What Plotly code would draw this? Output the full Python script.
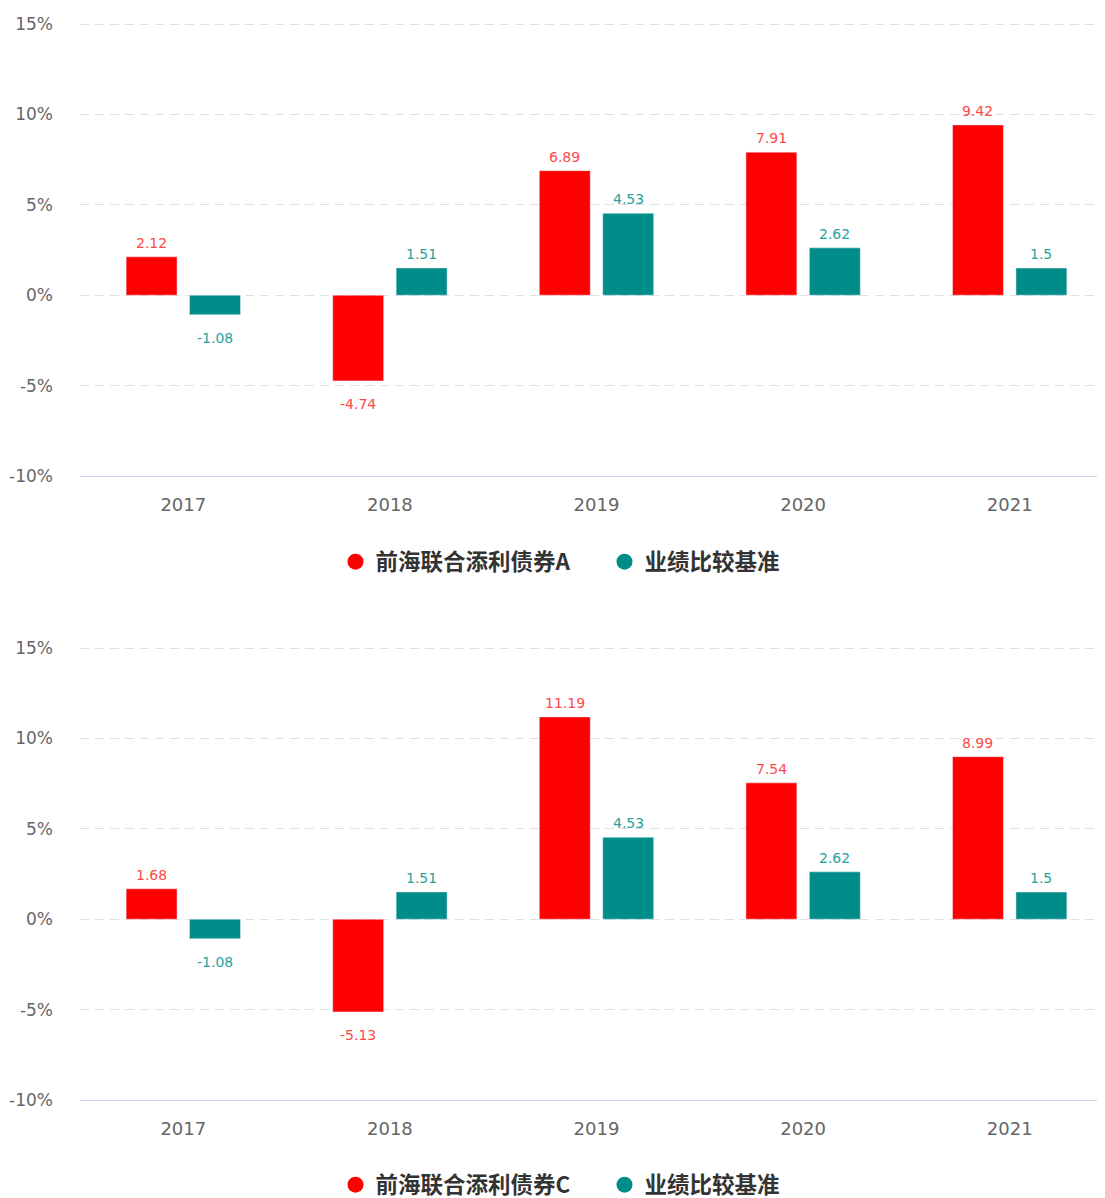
import plotly.graph_objects as go
from plotly.subplots import make_subplots

years = ["2017", "2018", "2019", "2020", "2021"]
fund_a = [2.12, -4.74, 6.89, 7.91, 9.42]
fund_c = [1.68, -5.13, 11.19, 7.54, 8.99]
bench = [-1.08, 1.51, 4.53, 2.62, 1.5]
name_a = "前海联合添利债券A"
name_c = "前海联合添利债券C"
name_b = "业绩比较基准"
y_ticks = [-10, -5, 0, 5, 10, 15]
y_ticktext = [f"{v}%" for v in y_ticks]

RED = "#ff0000"
TEAL = "#008c89"
LBL_RED = "#ff4848"
LBL_TEAL = "#2a9f9b"

BODY = 8  # page body margin of the html page
H = 1198
W = 1105
ML = 80 - BODY
PLOT_W = W - ML
BARGAP = 0.386
BARGROUPGAP = 0.197
cat_px = PLOT_W / 5
bar_off = cat_px * (1 - BARGAP) / 4  # centre offset of each bar in a group

Y_MIN, Y_MAX = -10, 15.1   # small headroom so the 15% grid line is drawn
PX_PER_UNIT = 452 / 25

fig = make_subplots(rows=2, cols=1)

def add_panel(row, fund, fname, legend):
    xref = "x" if row == 1 else f"x{row}"
    yref = "y" if row == 1 else f"y{row}"
    for vals, color, lcolor, nm, sign in [(fund, RED, LBL_RED, fname, -1),
                                         (bench, TEAL, LBL_TEAL, name_b, 1)]:
        fig.add_trace(go.Bar(x=years, y=vals, name=nm, marker_color=color,
                             showlegend=False), row=row, col=1)
        for i, v in enumerate(vals):
            pos = v >= 0
            fig.add_annotation(
                x=i, y=v, xref=xref, yref=yref, text=str(v), showarrow=False,
                xanchor="center", yanchor="bottom" if pos else "top",
                xshift=sign * bar_off, yshift=4 if pos else -13,
                font=dict(family="DejaVu Sans, sans-serif", size=14, color=lcolor))
    fig.add_trace(go.Scatter(x=[None], y=[None], mode="markers", name=fname,
                             marker=dict(color=RED, size=20, symbol="circle"),
                             legend=legend), row=row, col=1)
    fig.add_trace(go.Scatter(x=[None], y=[None], mode="markers", name=name_b,
                             marker=dict(color=TEAL, size=20, symbol="circle"),
                             legend=legend), row=row, col=1)

add_panel(1, fund_a, name_a, "legend")
add_panel(2, fund_c, name_c, "legend2")

extra = (Y_MAX - 15) * PX_PER_UNIT
top_dom = [1 - (476 - BODY) / H, 1 - (24 - extra - BODY) / H]
bot_dom = [1 - (1100 - BODY) / H, 1 - (648 - extra - BODY) / H]

yfont = dict(family="DejaVu Sans, sans-serif", size=17, color="#666666")
xfont = dict(family="DejaVu Sans, sans-serif", size=18, color="#666666")
for r, dom in [(1, top_dom), (2, bot_dom)]:
    fig.update_yaxes(row=r, col=1, domain=dom, range=[Y_MIN, Y_MAX], tickvals=y_ticks,
                     ticktext=y_ticktext, showgrid=True, gridcolor="#e0e0e0",
                     griddash="9px,6px", gridwidth=1, zeroline=False,
                     tickfont=yfont, ticks="", ticklabelstandoff=26)
    fig.update_xaxes(row=r, col=1, range=[-0.5, 4.5], type="category",
                     showline=True, linecolor="#ccd6eb", linewidth=1,
                     tickfont=xfont, ticks="", showgrid=False, ticklabelstandoff=12)

legend_style = dict(orientation="h", x=(563.5 - 80 + 41) / PLOT_W, xanchor="center",
                    yanchor="middle", entrywidth=224,
                    font=dict(family="Noto Sans CJK SC, sans-serif", size=22.5, color="#333333",
                              weight="bold"),
                    itemsizing="trace", bgcolor="rgba(0,0,0,0)")

fig.update_layout(
    width=W, height=H,
    margin=dict(l=ML, r=0, t=0, b=0, autoexpand=False),
    plot_bgcolor="white", paper_bgcolor="white",
    barmode="group", bargap=BARGAP, bargroupgap=BARGROUPGAP,
    font=dict(family="DejaVu Sans, sans-serif"),
    legend=dict(y=1 - (562 - BODY) / H, **legend_style),
    legend2=dict(y=1 - (1185 - BODY) / H, **legend_style),
)

fig.write_html("out.html")
